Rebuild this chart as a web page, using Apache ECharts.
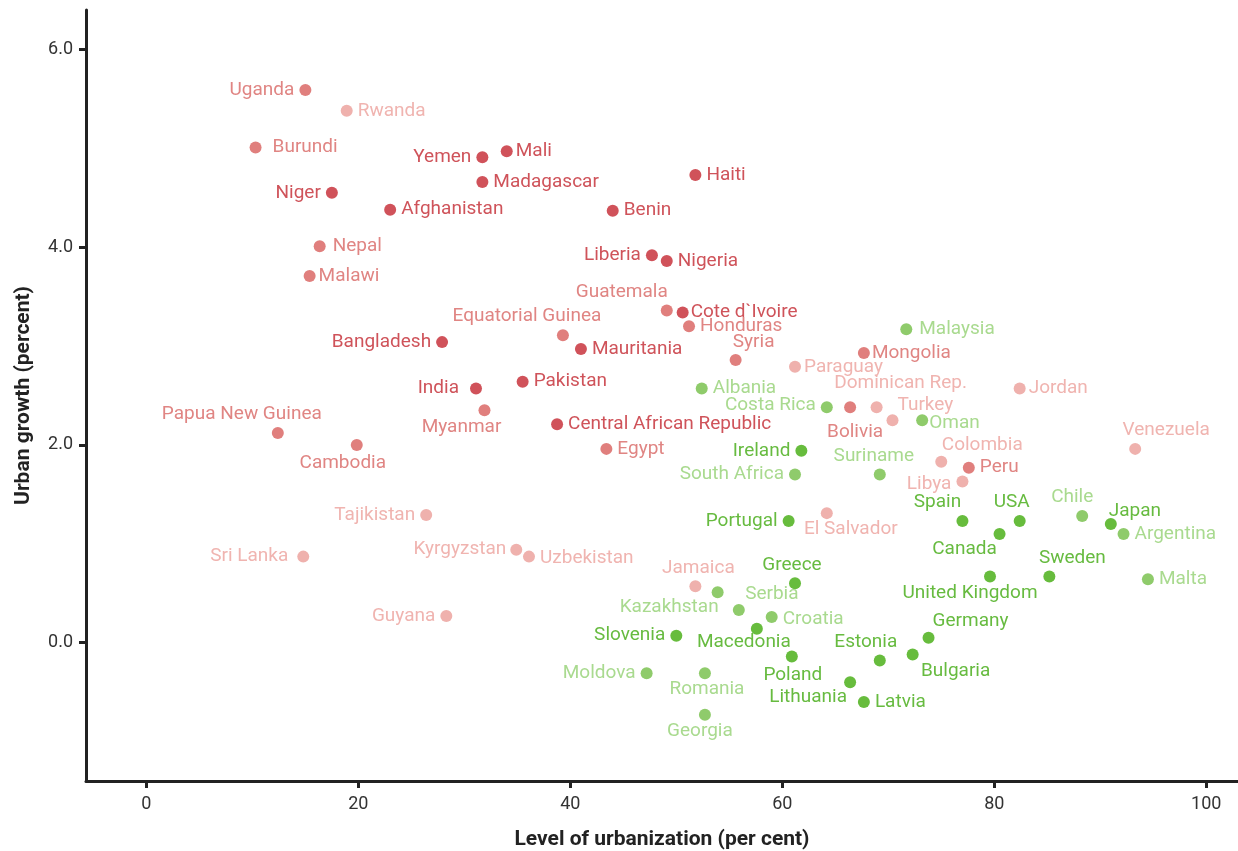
<!DOCTYPE html>
<html>
<head>
<meta charset="utf-8">
<script src="https://cdn.jsdelivr.net/npm/echarts@6/dist/echarts.min.js"></script>
<style>
  html, body { margin: 0; padding: 0; background: #fff; }
  #chart { width: 1238px; height: 851px; }
</style>
</head>
<body>
<div id="chart"></div>
<script>
// [urbanization %, urban growth %, country]
const darkRed = [
  [17.5, 4.55, 'Niger'], [23.0, 4.38, 'Afghanistan'], [31.7, 4.91, 'Yemen'],
  [34.0, 4.97, 'Mali'], [31.7, 4.66, 'Madagascar'], [51.8, 4.73, 'Haiti'],
  [44.0, 4.37, 'Benin'], [47.7, 3.92, 'Liberia'], [49.1, 3.86, 'Nigeria'],
  [50.6, 3.34, 'Cote d`Ivoire'], [41.0, 2.97, 'Mauritania'], [27.9, 3.04, 'Bangladesh'],
  [31.1, 2.57, 'India'], [35.5, 2.64, 'Pakistan'], [38.75, 2.21, 'Central African Republic']
];
const midRed = [
  [15.0, 5.59, 'Uganda'], [10.3, 5.01, 'Burundi'], [16.35, 4.01, 'Nepal'],
  [15.4, 3.71, 'Malawi'], [49.1, 3.36, 'Guatemala'], [51.2, 3.20, 'Honduras'],
  [39.3, 3.11, 'Equatorial Guinea'], [55.6, 2.86, 'Syria'], [67.7, 2.93, 'Mongolia'],
  [31.9, 2.35, 'Myanmar'], [43.4, 1.96, 'Egypt'], [12.4, 2.12, 'Papua New Guinea'],
  [19.85, 2.00, 'Cambodia'], [66.4, 2.38, 'Bolivia'], [77.6, 1.77, 'Peru']
];
const lightRed = [
  [18.9, 5.38, 'Rwanda'], [61.2, 2.79, 'Paraguay'], [82.4, 2.57, 'Jordan'],
  [68.9, 2.38, 'Dominican Rep.'], [70.4, 2.25, 'Turkey'], [93.3, 1.96, 'Venezuela'],
  [75.0, 1.83, 'Colombia'], [77.0, 1.63, 'Libya'], [26.4, 1.29, 'Tajikistan'],
  [14.8, 0.87, 'Sri Lanka'], [34.9, 0.94, 'Kyrgyzstan'], [36.1, 0.87, 'Uzbekistan'],
  [28.3, 0.27, 'Guyana'], [64.2, 1.31, 'El Salvador'], [51.8, 0.57, 'Jamaica']
];
const darkGreen = [
  [61.8, 1.94, 'Ireland'], [60.6, 1.23, 'Portugal'], [77.0, 1.23, 'Spain'],
  [82.4, 1.23, 'USA'], [80.5, 1.10, 'Canada'], [91.0, 1.20, 'Japan'],
  [85.2, 0.67, 'Sweden'], [79.6, 0.67, 'United Kingdom'], [61.2, 0.60, 'Greece'],
  [57.6, 0.14, 'Macedonia'], [50.0, 0.07, 'Slovenia'], [69.2, -0.18, 'Estonia'],
  [73.8, 0.05, 'Germany'], [72.3, -0.12, 'Bulgaria'], [60.9, -0.14, 'Poland'],
  [66.4, -0.40, 'Lithuania'], [67.7, -0.60, 'Latvia']
];
const midGreen = [
  [71.7, 3.17, 'Malaysia'], [52.4, 2.57, 'Albania'], [64.2, 2.38, 'Costa Rica'],
  [73.2, 2.25, 'Oman'], [69.2, 1.70, 'Suriname'], [61.2, 1.70, 'South Africa'],
  [88.3, 1.28, 'Chile'], [92.2, 1.10, 'Argentina'], [94.5, 0.64, 'Malta'],
  [53.9, 0.51, 'Kazakhstan'], [55.9, 0.33, 'Serbia'], [59.0, 0.26, 'Croatia'],
  [47.2, -0.31, 'Moldova'], [52.7, -0.31, 'Romania'], [52.7, -0.73, 'Georgia']
];
const xTicks = [0, 20, 40, 60, 80, 100];
const yTicks = [0, 2, 4, 6];

// where each label sits relative to its dot
const placement = {
  'Uganda': ['left'], 'Rwanda': ['right'], 'Burundi': ['right', [6, 0]], 'Niger': ['left'],
  'Afghanistan': ['right'], 'Nepal': ['right', [2, 0]], 'Malawi': ['right', [-2, 0]], 'Yemen': ['left'],
  'Mali': ['right', [-2, 0]], 'Madagascar': ['right'], 'Haiti': ['right'], 'Benin': ['right'],
  'Liberia': ['left'], 'Nigeria': ['right'], 'Guatemala': ['top', [-45, 2]],
  'Cote d`Ivoire': ['right', [-3, 0]], 'Honduras': ['right'], 'Equatorial Guinea': ['top', [-36, 2]],
  'Mauritania': ['right'], 'Bangladesh': ['left'], 'Syria': ['top', [18, 3]],
  'Paraguay': ['right', [-2, 0]], 'Mongolia': ['right', [-3, 0]], 'Malaysia': ['right', [2, 0]],
  'Jordan': ['right', [-2, 0]], 'India': ['left', [-6, 0]], 'Pakistan': ['right'],
  'Myanmar': ['bottom', [-23, -4]], 'Central African Republic': ['right'], 'Egypt': ['right'],
  'Papua New Guinea': ['top', [-36, 2]], 'Cambodia': ['bottom', [-14, -2]],
  'Albania': ['right'], 'Costa Rica': ['left', [0, -2]], 'Bolivia': ['bottom', [5, 4]],
  'Dominican Rep.': ['top', [24, -4]], 'Turkey': ['right', [-6, -15]], 'Oman': ['right', [-4, 3]],
  'Venezuela': ['top', [31, 2]], 'Ireland': ['left'], 'Colombia': ['top', [41, 4]],
  'Peru': ['right'], 'Libya': ['left', [0, 3]], 'Suriname': ['top', [-6, 2]],
  'South Africa': ['left'], 'Tajikistan': ['left'], 'Sri Lanka': ['left', [-4, 0]],
  'Kyrgyzstan': ['left', [1, 0]], 'Uzbekistan': ['right', [0, 2]], 'Guyana': ['left'],
  'El Salvador': ['bottom', [24, -4]], 'Portugal': ['left'], 'Spain': ['top', [-25, 2]],
  'USA': ['top', [-8, 2]], 'Canada': ['bottom', [-35, -5]], 'Chile': ['top', [-10, 2]],
  'Japan': ['top', [24, 8]], 'Argentina': ['right'], 'Sweden': ['top', [23, 2]],
  'United Kingdom': ['bottom', [-20, -4]], 'Malta': ['right'], 'Jamaica': ['top', [3, 2]],
  'Greece': ['top', [-3, 2]], 'Kazakhstan': ['left', [12, 15]], 'Serbia': ['top', [33, 5]],
  'Croatia': ['right', [0, 2]], 'Macedonia': ['bottom', [-13, -7]], 'Slovenia': ['left'],
  'Estonia': ['top', [-14, 2]], 'Germany': ['top', [42, 4]], 'Bulgaria': ['bottom', [43, -4]],
  'Poland': ['bottom', [1, -2]], 'Moldova': ['left'], 'Romania': ['bottom', [2, -5]],
  'Lithuania': ['bottom', [-42, -5]], 'Latvia': ['right'], 'Georgia': ['bottom', [-5, -4]]
};

function makeSeries(rows, dotColor, textColor) {
  return {
    type: 'scatter',
    symbolSize: 12,
    itemStyle: { color: dotColor, opacity: 1 },
    label: {
      show: true,
      formatter: '{b}',
      color: textColor,
      fontFamily: 'Roboto',
      fontSize: 19,
      distance: 5
    },
    emphasis: { disabled: true },
    data: rows.map(r => {
      const p = placement[r[2]] || ['right'];
      return {
        name: r[2],
        value: [r[0], r[1]],
        label: { position: p[0], offset: p[1] || [0, 0] }
      };
    })
  };
}

const chart = echarts.init(document.getElementById('chart'));
chart.setOption({
  animation: false,
  grid: { left: 86, right: 0, top: 10, bottom: 70, outerBoundsMode: 'none' },
  xAxis: {
    type: 'value',
    min: -5.7,
    max: 103,
    name: 'Level of urbanization (per cent)',
    nameLocation: 'middle',
    nameGap: 48,
    nameTextStyle: { fontFamily: 'Roboto', fontSize: 21, fontWeight: 'bold', color: '#222' },
    axisLine: { show: true, onZero: false, lineStyle: { color: '#222', width: 3 } },
    axisTick: { show: true, length: 7, customValues: xTicks, lineStyle: { color: '#222', width: 3 } },
    axisLabel: { customValues: xTicks, fontFamily: 'Roboto', fontSize: 18, color: '#333', margin: 14 },
    splitLine: { show: false }
  },
  yAxis: {
    type: 'value',
    min: -1.4,
    max: 6.4,
    name: 'Urban growth (percent)',
    nameLocation: 'middle',
    nameGap: 52,
    nameTextStyle: { fontFamily: 'Roboto', fontSize: 21, fontWeight: 'bold', color: '#222' },
    axisLine: { show: true, onZero: false, lineStyle: { color: '#222', width: 3 } },
    axisTick: { show: true, length: 7, customValues: yTicks, lineStyle: { color: '#222', width: 3 } },
    axisLabel: {
      customValues: yTicks,
      formatter: v => v.toFixed(1),
      fontFamily: 'Roboto', fontSize: 18, color: '#333', margin: 13
    },
    splitLine: { show: false }
  },
  series: [
    makeSeries(lightRed, '#efb1ad', '#f0b4b0'),
    makeSeries(midRed, '#e07f7d', '#e08583'),
    makeSeries(darkRed, '#d0525a', '#cf535a'),
    makeSeries(midGreen, '#8fcb6b', '#a9da8f'),
    makeSeries(darkGreen, '#67bc3d', '#67bb40')
  ]
});
</script>
</body>
</html>
